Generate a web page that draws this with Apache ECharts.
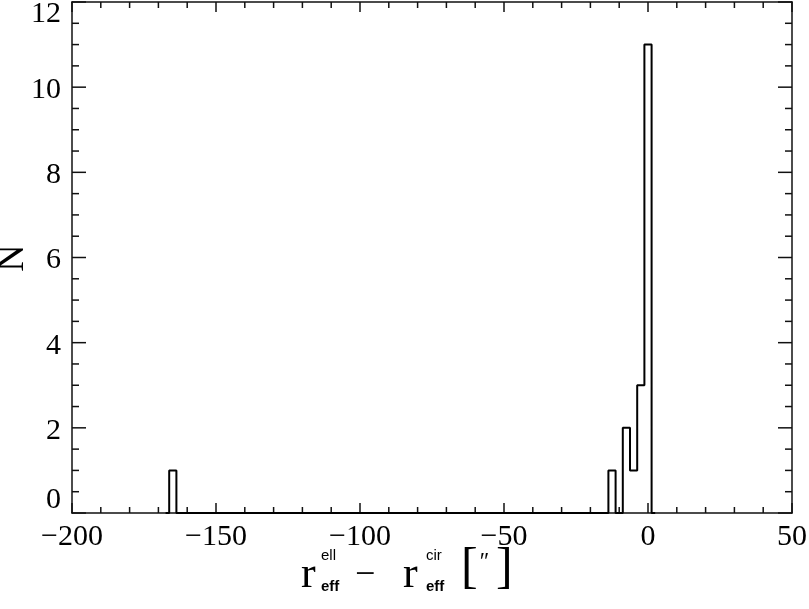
<!DOCTYPE html>
<html>
<head>
<meta charset="utf-8">
<script src="https://cdn.jsdelivr.net/npm/echarts@6/dist/echarts.min.js"></script>
<style>html,body{margin:0;padding:0;background:#fff;}#c{width:809px;height:609px;}</style>
</head>
<body>
<div id="c"></div>
<script>
// Histogram bins (centers) with non-zero counts
var binWidth = 2.5;
var binCenters = [-165, -12.5, -7.5, -5, -2.5, 0];
var binCounts = [1, 1, 2, 1, 3, 11];
var xTicks = [-200, -150, -100, -50, 0, 50];
var yTicks = [0, 2, 4, 6, 8, 10, 12];
var xMinorStep = 10;
var yMinorStep = 0.5;

// full histogram table (empty bins = 0) for the step outline
var lookup = {};
binCenters.forEach(function (c, i) { lookup[c.toFixed(2)] = binCounts[i]; });
var lo = Math.min.apply(null, binCenters) - binWidth;
var hi = Math.max.apply(null, binCenters) + binWidth;
var hist = [];
var n = Math.round((hi - lo) / binWidth);
for (var k = 0; k <= n; k++) {
  var c = lo + k * binWidth;
  hist.push([c, lookup[c.toFixed(2)] || 0]);
}

var xMin = xTicks[0], xMax = xTicks[xTicks.length - 1];
var yMin = yTicks[0], yMax = yTicks[yTicks.length - 1];
// tick table for the mirrored inside ticks
var xTickData = [];
for (var i = 0; i <= Math.round((xMax - xMin) / xMinorStep); i++) {
  var xv = xMin + i * xMinorStep;
  xTickData.push([xv, xTicks.indexOf(xv) >= 0 ? 1 : 0]);
}
var yTickData = [];
for (var j = 0; j <= Math.round((yMax - yMin) / yMinorStep); j++) {
  var yv = yMin + j * yMinorStep;
  yTickData.push([yv, yTicks.indexOf(yv) >= 0 ? 1 : 0]);
}

var serif = '"Liberation Serif", "DejaVu Serif", serif';
var sans = '"Liberation Sans", "DejaVu Sans", sans-serif';
var axisColor = '#111';

function fmtX(v) { return v < 0 ? '\u2212' + Math.abs(v) : String(v); }

var tickStyle = {stroke: axisColor, lineWidth: 1.5};
function renderXTick(params, api) {
  var v = api.value(0), major = api.value(1);
  var len = major ? 10 : 6;
  var b = api.coord([v, yMin]), t = api.coord([v, yMax]);
  return {type: 'group', children: [
    {type: 'line', shape: {x1: b[0], y1: b[1], x2: b[0], y2: b[1] - len}, style: tickStyle},
    {type: 'line', shape: {x1: t[0], y1: t[1], x2: t[0], y2: t[1] + len}, style: tickStyle}
  ]};
}
function renderYTick(params, api) {
  var v = api.value(0), major = api.value(1);
  var len = major ? 14 : 7;
  var l = api.coord([xMin, v]), r = api.coord([xMax, v]);
  return {type: 'group', children: [
    {type: 'line', shape: {x1: l[0], y1: l[1], x2: l[0] + len, y2: l[1]}, style: tickStyle},
    {type: 'line', shape: {x1: r[0], y1: r[1], x2: r[0] - len, y2: r[1]}, style: tickStyle}
  ]};
}

var chart = echarts.init(document.getElementById('c'), null, {renderer: 'canvas'});
var axisCommon = {
  axisLine: {show: true, onZero: false, lineStyle: {color: axisColor, width: 1.5}},
  splitLine: {show: false},
  axisTick: {show: false},
  minorTick: {show: false}
};
chart.setOption({
  animation: false,
  backgroundColor: '#fff',
  grid: {left: 72, top: 2, width: 720, height: 511, containLabel: false, outerBoundsMode: 'none'},
  xAxis: [
    Object.assign({
      type: 'value', min: xMin, max: xMax, interval: 50, position: 'bottom',
      axisLabel: {show: true, margin: 9, color: '#000', fontFamily: serif, fontSize: 30, formatter: fmtX}
    }, axisCommon),
    Object.assign({
      type: 'value', min: xMin, max: xMax, interval: 50, position: 'top',
      axisLabel: {show: false}
    }, axisCommon)
  ],
  yAxis: [
    Object.assign({
      type: 'value', min: yMin, max: yMax, interval: 2, position: 'left',
      axisLabel: {
        show: true, margin: 11, color: '#000', fontFamily: serif, fontSize: 30,
        formatter: function (v) {
          if (v === yMin) return '{b|' + v + '}';
          if (v === yMax) return '{t|' + v + '}';
          return '{m|' + v + '}';
        },
        rich: {
          b: {fontFamily: serif, fontSize: 30, color: '#000', padding: [0, 0, 26, 0]},
          t: {fontFamily: serif, fontSize: 30, color: '#000', padding: [24, 0, 0, 0]},
          m: {fontFamily: serif, fontSize: 30, color: '#000', padding: [6, 0, 0, 0]}
        }
      }
    }, axisCommon),
    Object.assign({
      type: 'value', min: yMin, max: yMax, interval: 2, position: 'right',
      axisLabel: {show: false}
    }, axisCommon)
  ],
  series: [
    {
      type: 'line', xAxisIndex: 0, yAxisIndex: 0,
      step: 'middle', data: hist, symbol: 'none', clip: false,
      lineStyle: {color: '#000', width: 2}
    },
    {type: 'custom', xAxisIndex: 0, yAxisIndex: 0, data: xTickData, renderItem: renderXTick, clip: false, silent: true},
    {type: 'custom', xAxisIndex: 0, yAxisIndex: 0, data: yTickData, renderItem: renderYTick, clip: false, silent: true,
     encode: {x: -1, y: 0}}
  ],
  graphic: [
    {type: 'text', x: 13, y: 258, rotation: Math.PI / 2,
     style: {text: 'N', font: '38px ' + serif, fill: '#000', align: 'center', verticalAlign: 'middle'}},
    {type: 'text', x: 301, y: 575, style: {text: 'r', font: '44px ' + serif, fill: '#000', align: 'left', verticalAlign: 'middle'}},
    {type: 'text', x: 321, y: 556, style: {text: 'ell', font: '15px ' + sans, fill: '#000', align: 'left', verticalAlign: 'middle'}},
    {type: 'text', x: 321, y: 587, style: {text: 'eff', font: 'bold 15px ' + sans, fill: '#000', align: 'left', verticalAlign: 'middle'}},
    {type: 'text', x: 355, y: 576, style: {text: '\u2212', font: '36px ' + serif, fill: '#000', align: 'left', verticalAlign: 'middle'}},
    {type: 'text', x: 403, y: 575, style: {text: 'r', font: '44px ' + serif, fill: '#000', align: 'left', verticalAlign: 'middle'}},
    {type: 'text', x: 426, y: 556, style: {text: 'cir', font: '15px ' + sans, fill: '#000', align: 'left', verticalAlign: 'middle'}},
    {type: 'text', x: 426, y: 587, style: {text: 'eff', font: 'bold 15px ' + sans, fill: '#000', align: 'left', verticalAlign: 'middle'}},
    {type: 'text', x: 461, y: 569, style: {text: '[', font: '50px ' + serif, fill: '#000', align: 'left', verticalAlign: 'middle'}},
    {type: 'text', x: 480, y: 562, style: {text: '\u2032\u2032', font: '22px ' + sans, fill: '#000', align: 'left', verticalAlign: 'middle'}},
    {type: 'text', x: 496, y: 569, style: {text: ']', font: '50px ' + serif, fill: '#000', align: 'left', verticalAlign: 'middle'}}
  ]
});
</script>
</body>
</html>
